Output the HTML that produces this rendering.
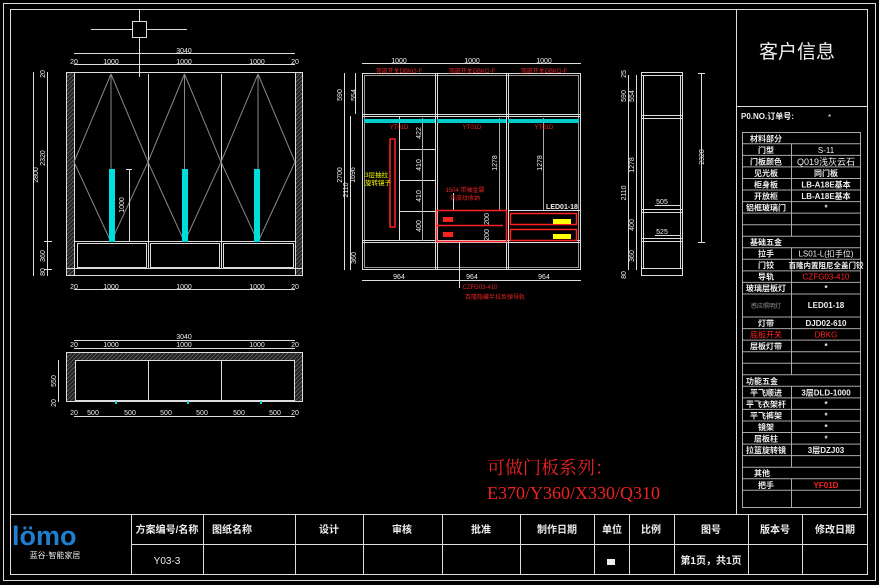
<!DOCTYPE html>
<html><head><meta charset="utf-8"><style>
html,body{margin:0;padding:0;background:#000;}
svg{display:block;}
text{font-family:"Liberation Sans","Noto Sans CJK SC",sans-serif;fill:#eee;}
</style></head><body>
<svg width="879" height="585" viewBox="0 0 879 585" xmlns="http://www.w3.org/2000/svg">
<defs>
<pattern id="h" width="3" height="3" patternUnits="userSpaceOnUse" patternTransform="rotate(45)">
<rect width="3" height="3" fill="#222"/><line x1="0" y1="0" x2="0" y2="3" stroke="#888" stroke-width="1"/></pattern>
</defs>
<rect width="879" height="585" fill="#000"/>
<g fill="none" stroke="#ddd" stroke-width="1">
<rect x="3.5" y="3.5" width="872" height="577"/>
<rect x="10.5" y="9.5" width="857" height="565"/>
<rect x="736.5" y="9.5" width="131" height="97"/>
<line x1="736.5" y1="9" x2="736.5" y2="514"/>
</g>
<text x="797" y="58" font-size="19" text-anchor="middle">客户信息</text>
<text x="741" y="119" font-size="8" font-weight="bold">P0.NO.订单号:</text>
<text x="828" y="120" font-size="8">*</text>

<g stroke="#aaa" stroke-width="1" fill="none">
<rect x="742.5" y="132.5" width="118" height="375"/>
<line x1="742" y1="143.8" x2="861" y2="143.8"/><line x1="742" y1="155.4" x2="861" y2="155.4"/>
<line x1="742" y1="166.9" x2="861" y2="166.9"/><line x1="742" y1="178.5" x2="861" y2="178.5"/>
<line x1="742" y1="190" x2="861" y2="190"/><line x1="742" y1="201.6" x2="861" y2="201.6"/>
<line x1="742" y1="213.1" x2="861" y2="213.1"/><line x1="742" y1="224.7" x2="861" y2="224.7"/>
<line x1="742" y1="236.2" x2="861" y2="236.2"/><line x1="742" y1="247.8" x2="861" y2="247.8"/>
<line x1="742" y1="259.3" x2="861" y2="259.3"/><line x1="742" y1="270.9" x2="861" y2="270.9"/>
<line x1="742" y1="282.4" x2="861" y2="282.4"/><line x1="742" y1="294" x2="861" y2="294"/>
<line x1="742" y1="317" x2="861" y2="317"/><line x1="742" y1="328.6" x2="861" y2="328.6"/>
<line x1="742" y1="340.1" x2="861" y2="340.1"/><line x1="742" y1="351.7" x2="861" y2="351.7"/>
<line x1="742" y1="363.2" x2="861" y2="363.2"/><line x1="742" y1="374.8" x2="861" y2="374.8"/>
<line x1="742" y1="386.3" x2="861" y2="386.3"/><line x1="742" y1="397.9" x2="861" y2="397.9"/>
<line x1="742" y1="409.4" x2="861" y2="409.4"/><line x1="742" y1="421" x2="861" y2="421"/>
<line x1="742" y1="432.5" x2="861" y2="432.5"/><line x1="742" y1="444.1" x2="861" y2="444.1"/>
<line x1="742" y1="455.6" x2="861" y2="455.6"/><line x1="742" y1="467.2" x2="861" y2="467.2"/>
<line x1="742" y1="478.7" x2="861" y2="478.7"/><line x1="742" y1="490.3" x2="861" y2="490.3"/>
<line x1="791.5" y1="143.8" x2="791.5" y2="236.2"/>
<line x1="791.5" y1="247.8" x2="791.5" y2="374.8"/>
<line x1="791.5" y1="386.3" x2="791.5" y2="467.2"/>
<line x1="791.5" y1="478.7" x2="791.5" y2="507"/>
</g>
<g font-size="8" font-weight="bold" text-anchor="middle">
<text x="766" y="141.5">材料部分</text>
<text x="766" y="153">门型</text><text x="826" y="153" font-weight="normal">S-11</text>
<text x="766" y="164.5">门板颜色</text><text x="826" y="165" font-weight="normal" font-size="9">Q019浅灰云石</text>
<text x="766" y="176">见光板</text><text x="826" y="176">同门板</text>
<text x="766" y="187.5">柜身板</text><text x="826" y="187.5">LB-A18E基本</text>
<text x="766" y="199">开放柜</text><text x="826" y="199">LB-A18E基本</text>
<text x="766" y="210.5">铝框玻璃门</text><text x="826" y="210.5">*</text>
<text x="766" y="245">基础五金</text>
<text x="766" y="256.5">拉手</text><text x="826" y="256.5" font-weight="normal">LS01-L(扣手位)</text>
<text x="766" y="268">门铰</text><text x="826" y="268" font-size="7.5">百隆内置阻尼全盖门铰</text>
<text x="766" y="279.5">导轨</text><text x="826" y="279.5" font-weight="normal" style="fill:#f22">CZFG03-410</text>
<text x="766" y="291">玻璃层板灯</text><text x="826" y="291">*</text>
<text x="766" y="308" font-weight="normal" font-size="6" style="fill:#999">感应照明灯</text><text x="826" y="308">LED01-18</text>
<text x="766" y="326">灯带</text><text x="826" y="326">DJD02-610</text>
<text x="766" y="337.5" font-weight="normal" style="fill:#f22">底板开关</text><text x="826" y="337.5" style="fill:#f22" font-weight="normal">DBKG</text>
<text x="766" y="349">层板灯带</text><text x="826" y="349">*</text>
<text x="762" y="384">功能五金</text>
<text x="766" y="395.5">平飞顺进</text><text x="826" y="395.5">3层DLD-1000</text>
<text x="766" y="407">平飞衣架杆</text><text x="826" y="407">*</text>
<text x="766" y="418.5">平飞裤架</text><text x="826" y="418.5">*</text>
<text x="766" y="430">镜架</text><text x="826" y="430">*</text>
<text x="766" y="441.5">层板柱</text><text x="826" y="441.5">*</text>
<text x="766" y="453">拉篮旋转镜</text><text x="826" y="453">3层DZJ03</text>
<text x="762" y="476">其他</text>
<text x="766" y="488">把手</text><text x="826" y="488" style="fill:#f22">YF01D</text>
</g>

<g stroke="#ddd" fill="none">
<rect x="10.5" y="514.5" width="857" height="60"/>
<line x1="131" y1="544.5" x2="868" y2="544.5"/>
<line x1="131.5" y1="514" x2="131.5" y2="575"/><line x1="203.5" y1="514" x2="203.5" y2="575"/>
<line x1="295.5" y1="514" x2="295.5" y2="575"/><line x1="363.5" y1="514" x2="363.5" y2="575"/>
<line x1="442.5" y1="514" x2="442.5" y2="575"/><line x1="520.5" y1="514" x2="520.5" y2="575"/>
<line x1="594.5" y1="514" x2="594.5" y2="575"/><line x1="629.5" y1="514" x2="629.5" y2="575"/>
<line x1="674.5" y1="514" x2="674.5" y2="575"/><line x1="748.5" y1="514" x2="748.5" y2="575"/>
<line x1="802.5" y1="514" x2="802.5" y2="575"/>
</g>
<g font-size="10" font-weight="bold" text-anchor="middle">
<text x="167" y="533">方案编号/名称</text><text x="232" y="533">图纸名称</text>
<text x="329" y="533">设计</text><text x="402" y="533">审核</text><text x="481" y="533">批准</text>
<text x="557" y="533">制作日期</text><text x="612" y="533">单位</text><text x="651" y="533">比例</text>
<text x="711" y="533">图号</text><text x="775" y="533">版本号</text><text x="835" y="533">修改日期</text>
<text x="167" y="564" font-weight="normal">Y03-3</text>
<text x="711" y="564">第1页，共1页</text>
</g>
<rect x="607" y="559" width="8" height="6" fill="#eee"/>
<text x="12" y="545" font-size="27" font-weight="bold" style="fill:#1e7fd0">lömo</text>
<text x="55" y="558" font-size="8" text-anchor="middle">蓝谷·智能家居</text>

<text x="487" y="474" font-size="18" style="fill:#e22;font-family:'Liberation Serif','Noto Serif CJK SC',serif">可做门板系列：</text>
<text x="487" y="499" font-size="18" style="fill:#e22;font-family:'Liberation Serif','Noto Serif CJK SC',serif">E370/Y360/X330/Q310</text>

<g stroke="#ddd" fill="none" stroke-width="1">
<line x1="139.5" y1="10" x2="139.5" y2="77"/>
<line x1="91" y1="29.5" x2="187" y2="29.5"/>
<rect x="132.5" y="21.5" width="14" height="16" fill="#000"/>
<rect x="66.5" y="72.5" width="236" height="203"/>
<rect x="67" y="73" width="7" height="202" fill="url(#h)" stroke="none"/>
<rect x="295" y="73" width="7" height="202" fill="url(#h)" stroke="none"/>
<line x1="74.5" y1="72" x2="74.5" y2="276"/><line x1="295.5" y1="72" x2="295.5" y2="276"/>
<line x1="66" y1="268.5" x2="303" y2="268.5"/>
<line x1="74" y1="241.5" x2="295" y2="241.5"/>
<line x1="148.5" y1="74" x2="148.5" y2="268"/><line x1="221.5" y1="74" x2="221.5" y2="268"/>
<rect x="77.5" y="243.5" width="69" height="24"/><rect x="150.5" y="243.5" width="69" height="24"/><rect x="223.5" y="243.5" width="70" height="24"/>
</g>
<g stroke="#888" fill="none">
<path d="M111,74 L74,162 L111,242 M111,74 L148,162 L111,242 M111,74 V242"/>
<path d="M184.5,74 L148,162 L184.5,242 M184.5,74 L221,162 L184.5,242 M184.5,74 V242"/>
<path d="M258,74 L221,162 L258,242 M258,74 L295,162 L258,242 M258,74 V242"/>
</g>
<g fill="#0dd"><rect x="109" y="169" width="6" height="73"/><rect x="182" y="169" width="6" height="73"/><rect x="254" y="169" width="6" height="73"/></g>
<g stroke="#ddd" fill="none">
<line x1="126" y1="169.5" x2="132" y2="169.5"/><line x1="129.5" y1="169" x2="129.5" y2="242"/>
<line x1="74" y1="53.5" x2="295" y2="53.5"/><line x1="74" y1="64.5" x2="295" y2="64.5"/>
<line x1="74" y1="289.5" x2="295" y2="289.5"/>
<line x1="33.5" y1="72" x2="33.5" y2="276"/><line x1="47.5" y1="72" x2="47.5" y2="276"/>
<line x1="44" y1="241.5" x2="52" y2="241.5"/><line x1="44" y1="269.5" x2="52" y2="269.5"/>
</g>
<g font-size="7" text-anchor="middle">
<text x="184" y="53">3040</text>
<text x="74" y="64">20</text><text x="111" y="64">1000</text><text x="184" y="64">1000</text><text x="257" y="64">1000</text><text x="295" y="64">20</text>
<text x="74" y="289">20</text><text x="111" y="289">1000</text><text x="184" y="289">1000</text><text x="257" y="289">1000</text><text x="295" y="289">20</text>
<text transform="translate(45,158) rotate(-90)">2320</text>
<text transform="translate(45,74) rotate(-90)">20</text>
<text transform="translate(45,256) rotate(-90)">360</text>
<text transform="translate(45,272) rotate(-90)">80</text>
<text transform="translate(38,175) rotate(-90)">2800</text>
<text transform="translate(124,205) rotate(-90)">1000</text>
</g>

<g stroke="#ddd" fill="none">
<rect x="66.5" y="352.5" width="236" height="49"/>
<rect x="67" y="353" width="235" height="7" fill="url(#h)" stroke="none"/>
<rect x="67" y="360" width="8" height="41" fill="url(#h)" stroke="none"/>
<rect x="295" y="360" width="7" height="41" fill="url(#h)" stroke="none"/>
<rect x="75.5" y="360.5" width="219" height="40"/>
<line x1="148.5" y1="360" x2="148.5" y2="401"/><line x1="221.5" y1="360" x2="221.5" y2="401"/>
<line x1="74" y1="340.5" x2="295" y2="340.5"/><line x1="74" y1="348.5" x2="295" y2="348.5"/>
<line x1="74" y1="416.5" x2="295" y2="416.5"/>
<line x1="58.5" y1="360" x2="58.5" y2="402"/>
</g>
<g fill="#0dd"><rect x="115" y="401" width="2" height="3"/><rect x="187" y="401" width="2" height="3"/><rect x="260" y="401" width="2" height="3"/></g>
<g font-size="7" text-anchor="middle">
<text x="184" y="339">3040</text>
<text x="74" y="347">20</text><text x="111" y="347">1000</text><text x="184" y="347">1000</text><text x="257" y="347">1000</text><text x="295" y="347">20</text>
<text x="74" y="415">20</text><text x="93" y="415">500</text><text x="130" y="415">500</text><text x="166" y="415">500</text><text x="202" y="415">500</text><text x="239" y="415">500</text><text x="275" y="415">500</text><text x="295" y="415">20</text>
<text transform="translate(56,381) rotate(-90)">550</text>
<text transform="translate(56,403) rotate(-90)">20</text>
</g>

<g stroke="#ddd" fill="none">
<rect x="362.5" y="73.5" width="218" height="196"/>
<rect x="364.5" y="75.5" width="214" height="192" stroke="#999"/>
<line x1="435.5" y1="74" x2="435.5" y2="270"/><line x1="437.5" y1="74" x2="437.5" y2="270"/>
<line x1="506.5" y1="74" x2="506.5" y2="270"/><line x1="508.5" y1="74" x2="508.5" y2="270"/>
<line x1="363" y1="114.5" x2="580" y2="114.5"/><line x1="363" y1="116.5" x2="580" y2="116.5"/>
<line x1="363" y1="240.5" x2="580" y2="240.5"/><line x1="363" y1="242.5" x2="580" y2="242.5"/>
<line x1="399.5" y1="117" x2="399.5" y2="241"/>
<line x1="400" y1="149.5" x2="435" y2="149.5"/><line x1="400" y1="180.5" x2="435" y2="180.5"/><line x1="400" y1="211.5" x2="435" y2="211.5"/>
<line x1="509" y1="210.5" x2="580" y2="210.5"/>
<line x1="422.5" y1="118" x2="422.5" y2="241" stroke="#aaa"/>
<line x1="499.5" y1="118" x2="499.5" y2="210" stroke="#aaa"/>
<line x1="543.5" y1="118" x2="543.5" y2="210" stroke="#aaa"/>
<line x1="362" y1="280.5" x2="581" y2="280.5"/>
<line x1="362" y1="63.5" x2="581" y2="63.5"/>
<line x1="344.5" y1="73" x2="344.5" y2="270"/><line x1="350.5" y1="116" x2="350.5" y2="270"/>
<line x1="355.5" y1="73" x2="355.5" y2="114"/>
<line x1="453.5" y1="193" x2="453.5" y2="210"/><line x1="459.5" y1="242" x2="459.5" y2="288"/>
</g>
<g fill="#0cc"><rect x="364" y="119" width="71" height="4"/><rect x="437" y="119" width="69" height="4"/><rect x="508" y="119" width="71" height="4"/></g>
<g stroke="#f22" fill="none" stroke-width="1.5">
<rect x="390" y="139" width="5" height="88"/>
<rect x="436.5" y="210.5" width="70" height="31"/>
<line x1="437" y1="225.5" x2="503" y2="225.5"/>
<rect x="510.5" y="213.5" width="66" height="11"/><rect x="510.5" y="229.5" width="66" height="11"/>
</g>
<g fill="#f22"><rect x="443" y="217" width="10" height="5"/><rect x="443" y="232" width="10" height="5"/></g>
<g fill="#ff0"><rect x="553" y="219" width="18" height="5"/><rect x="553" y="234" width="18" height="5"/></g>
<g font-size="7" text-anchor="middle">
<text x="399" y="63">1000</text><text x="472" y="63">1000</text><text x="544" y="63">1000</text>
<text x="399" y="279">964</text><text x="472" y="279">964</text><text x="544" y="279">964</text>
<text x="562" y="209" font-weight="bold">LED01-18</text>
<text transform="translate(342,175) rotate(-90)">2700</text>
<text transform="translate(348,190) rotate(-90)">2110</text>
<text transform="translate(355,175) rotate(-90)">1696</text>
<text transform="translate(342,95) rotate(-90)">590</text>
<text transform="translate(356,95) rotate(-90)">554</text>
<text transform="translate(356,258) rotate(-90)">360</text>
<text transform="translate(421,133) rotate(-90)">422</text>
<text transform="translate(421,165) rotate(-90)">410</text>
<text transform="translate(421,196) rotate(-90)">410</text>
<text transform="translate(421,226) rotate(-90)">400</text>
<text transform="translate(497,163) rotate(-90)">1278</text>
<text transform="translate(542,163) rotate(-90)">1278</text>
<text transform="translate(489,219) rotate(-90)">200</text>
<text transform="translate(489,235) rotate(-90)">200</text>
</g>
<g font-size="6" text-anchor="middle">
<text x="399" y="73" style="fill:#e22">顶部开关DBKG-F</text><text x="472" y="73" style="fill:#e22">顶部开关DBKG-F</text><text x="544" y="73" style="fill:#e22">顶部开关DBKG-F</text>
<text x="399" y="129" style="fill:#e22">YT01D</text><text x="472" y="129" style="fill:#e22">YT01D</text><text x="544" y="129" style="fill:#e22">YT01D</text>
<text x="465" y="192" style="fill:#e22">1504 带轴金属</text><text x="465" y="200" style="fill:#e22">仿皮纹收纳</text>
<text x="480" y="289" style="fill:#e22">CZFG03-410</text><text x="495" y="299" style="fill:#e22">百隆隐藏半拉反弹导轨</text>
</g>
<text x="365" y="177" font-size="6.5" style="fill:#ff0">3层抽拉</text>
<text x="365" y="185" font-size="6.5" style="fill:#ff0">旋转镜子</text>

<g stroke="#ddd" fill="none">
<rect x="641.5" y="72.5" width="41" height="203"/>
<line x1="643.5" y1="75" x2="643.5" y2="268"/><line x1="680.5" y1="75" x2="680.5" y2="268"/>
<line x1="642" y1="75.5" x2="682" y2="75.5"/>
<line x1="642" y1="115.5" x2="682" y2="115.5"/><line x1="642" y1="118.5" x2="682" y2="118.5"/>
<line x1="642" y1="209.5" x2="682" y2="209.5"/><line x1="642" y1="212.5" x2="682" y2="212.5"/>
<line x1="642" y1="238.5" x2="682" y2="238.5"/><line x1="642" y1="241.5" x2="682" y2="241.5"/>
<line x1="642" y1="268.5" x2="682" y2="268.5"/>
<line x1="701.5" y1="73" x2="701.5" y2="242"/>
<line x1="698" y1="73.5" x2="705" y2="73.5"/><line x1="698" y1="242.5" x2="705" y2="242.5"/>
<line x1="628.5" y1="75" x2="628.5" y2="270"/><line x1="636.5" y1="75" x2="636.5" y2="270"/>
<line x1="655" y1="205.5" x2="681" y2="205.5"/><line x1="655" y1="235.5" x2="681" y2="235.5"/>
</g>
<g font-size="7" text-anchor="middle">
<text x="662" y="204">505</text><text x="662" y="234">525</text>
<text transform="translate(704,157) rotate(-90)">2320</text>
<text transform="translate(626,96) rotate(-90)">590</text>
<text transform="translate(634,96) rotate(-90)">554</text>
<text transform="translate(634,165) rotate(-90)">1278</text>
<text transform="translate(626,193) rotate(-90)">2110</text>
<text transform="translate(634,225) rotate(-90)">400</text>
<text transform="translate(634,256) rotate(-90)">360</text>
<text transform="translate(626,74) rotate(-90)">25</text>
<text transform="translate(626,275) rotate(-90)">80</text>
</g>
</svg>
</body></html>
